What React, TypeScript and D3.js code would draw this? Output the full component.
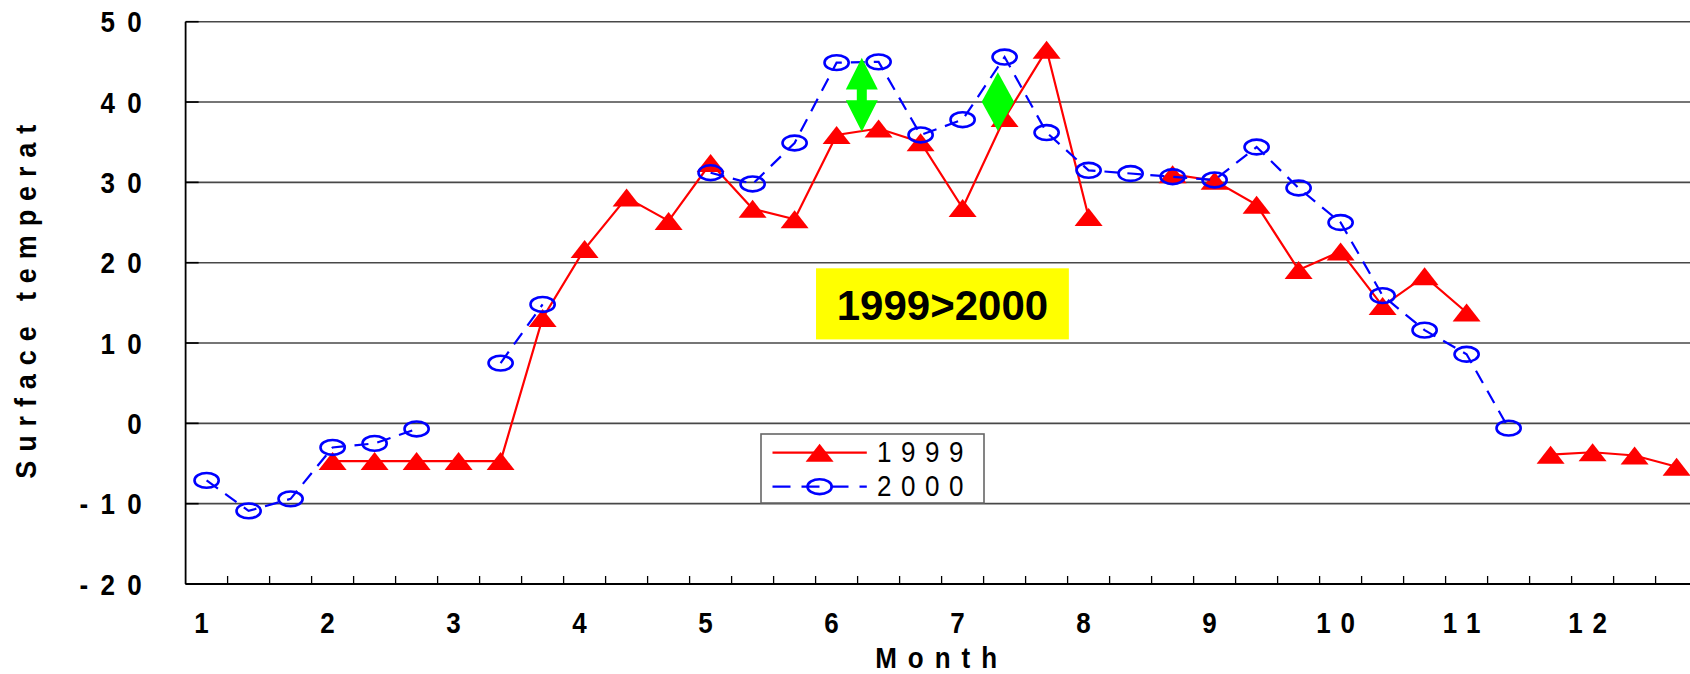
import React from "react";
import * as d3 from "d3";

// ---- data (dekadal: 3 values per month) ----
const months = ["1", "2", "3", "4", "5", "6", "7", "8", "9", "10", "11", "12"];
const dekadsPerMonth = 3;
const series1999: (number | null)[] = [
  null, null, null, -4.7, -4.7, -4.7, -4.7, -4.7, 13.1, 21.7, 28.1, 25.2,
  32.4, 26.7, 25.4, 35.9, 36.7, 35.0, 26.8, 38.0, 46.5, 25.7, null, 31.0,
  30.2, 27.2, 19.1, 21.4, 14.6, 18.3, 13.8, null, -3.9, -3.6, -4.0, -5.4,
];
const series2000: (number | null)[] = [
  -7.1, -10.9, -9.4, -3.0, -2.5, -0.7, null, 7.5, 14.8, null, null, null,
  31.2, 29.8, 34.9, 44.9, 45.0, 35.9, 37.8, 45.6, 36.2, 31.5, 31.1, 30.7,
  30.3, 34.4, 29.3, 25.0, 15.9, 11.6, 8.6, -0.6, null, null, null, null,
];
const yTicks = [-20, -10, 0, 10, 20, 30, 40, 50];
const legendLabels = ["1999", "2000"];
const yTitle = "Surface temperat";
const xTitle = "Month";
const noteText = "1999>2000";

const FONT = "'Liberation Sans', Arial, Helvetica, sans-serif";

export default function App() {
  const W = 1690;
  const H = 674;
  const left = 185.6;
  const top = 21.7;
  const bottom = 584;
  const catW = 42;
  const n = months.length * dekadsPerMonth;

  const x = d3.scaleLinear().domain([0, n]).range([left, left + n * catW]);
  const y = d3.scaleLinear().domain([-20, 50]).range([bottom, top]);
  const cx = (i: number) => x(i + 0.5);

  const lineGen = d3
    .line<number | null>()
    .defined((d) => d != null)
    .x((_, i) => cx(i))
    .y((d) => y(d as number));

  const red = "#FF0000";
  const blue = "#0000FF";
  const green = "#00FF00";
  const dash = "14,9";
  const SY = 1.12; // vertical stretch of the axis lettering

  const tri = (px: number, py: number) =>
    `M${px},${py - 9}L${px + 14},${py + 9}L${px - 14},${py + 9}Z`;

  // annotation shapes (pixel geometry derived from the scales)
  const ax = x(16.1);
  const aTop = y(45.5);
  const aBot = y(36.3);
  const head = 31.6;
  const arrowPts = [
    [ax, aTop], [ax + 16, aTop + head], [ax + 5, aTop + head], [ax + 5, aBot - head],
    [ax + 16, aBot - head], [ax, aBot], [ax - 16, aBot - head], [ax - 5, aBot - head],
    [ax - 5, aTop + head], [ax - 16, aTop + head],
  ];
  const dx = x(19.34);
  const dTop = y(43.7);
  const dBot = y(36.4);
  const dMid = (dTop + dBot) / 2;
  const diamondPts = [[dx, dTop], [dx + 16.2, dMid], [dx, dBot], [dx - 16.2, dMid]];

  const boxX0 = x(15.01);
  const boxX1 = x(21.03);
  const boxY0 = y(19.3);
  const boxY1 = y(10.45);

  const plotRight = x(n);

  return (
    <svg
      width={W}
      height={H}
      style={{ position: "absolute", left: 0, top: 0, background: "#fff" }}
      fontFamily={FONT}
    >
      <rect x={0} y={0} width={W} height={H} fill="#fff" />
      {/* gridlines */}
      {yTicks.map((t) => (
        <line key={"g" + t} x1={left} x2={plotRight} y1={y(t)} y2={y(t)} stroke="#484848" strokeWidth={1.6} />
      ))}
      {/* y ticks (inside) */}
      {yTicks.map((t) => (
        <line key={"yt" + t} x1={left} x2={left + 13} y1={y(t)} y2={y(t)} stroke="#000" strokeWidth={1.6} />
      ))}
      {/* x ticks */}
      {d3.range(1, n + 1).map((i) => (
        <line key={"xt" + i} x1={x(i)} x2={x(i)} y1={bottom} y2={bottom - 8} stroke="#000" strokeWidth={1.3} />
      ))}
      {/* axes */}
      <line x1={left} x2={left} y1={top} y2={bottom} stroke="#000" strokeWidth={1.8} />
      <line x1={left} x2={plotRight} y1={bottom} y2={bottom} stroke="#000" strokeWidth={1.8} />

      {/* y tick labels */}
      {yTicks.map((t) => (
        <text
          key={"yl" + t}
          transform={`translate(${141.6 + 12.3},${y(t) + 10.5}) scale(1,${SY})`}
          textAnchor="end"
          fontSize={26}
          fontWeight={700}
          letterSpacing={12.3}
        >
          {String(t)}
        </text>
      ))}
      {/* x tick labels */}
      {months.map((m, k) => (
        <text
          key={"xl" + m}
          transform={`translate(${cx(k * dekadsPerMonth)},632.5) scale(1,${SY})`}
          textAnchor="middle"
          fontSize={26}
          fontWeight={700}
          letterSpacing={10}
        >
          {m}
        </text>
      ))}
      {/* axis titles */}
      <text
        transform={`translate(${(left + plotRight) / 2},667.5) scale(1,${SY})`}
        textAnchor="middle"
        fontSize={26}
        fontWeight={700}
        letterSpacing={11}
      >
        {xTitle}
      </text>
      <text
        transform="translate(36,297.3) rotate(-90) scale(1,1.08)"
        textAnchor="middle"
        fontSize={27}
        fontWeight={700}
        letterSpacing={8.9}
      >
        {yTitle}
      </text>

      {/* series 1999 */}
      <path d={lineGen(series1999) || ""} fill="none" stroke={red} strokeWidth={2.2} />
      {series1999.map((v, i) =>
        v == null ? null : <path key={"r" + i} d={tri(cx(i), y(v))} fill={red} />
      )}
      {/* series 2000 */}
      <path d={lineGen(series2000) || ""} fill="none" stroke={blue} strokeWidth={2.2} strokeDasharray={dash} />
      {series2000.map((v, i) =>
        v == null ? null : (
          <ellipse key={"b" + i} cx={cx(i)} cy={y(v)} rx={12.1} ry={7.4} fill="none" stroke={blue} strokeWidth={2.6} />
        )
      )}

      {/* annotations */}
      <polygon points={arrowPts.map((p) => p.join(",")).join(" ")} fill={green} />
      <polygon points={diamondPts.map((p) => p.join(",")).join(" ")} fill={green} />
      <rect x={boxX0} y={boxY0} width={boxX1 - boxX0} height={boxY1 - boxY0} fill="#FFFF00" />
      <text x={(boxX0 + boxX1) / 2} y={320} textAnchor="middle" fontSize={42} fontWeight={700}>
        {noteText}
      </text>

      {/* legend */}
      <rect x={761} y={434} width={223} height={69} fill="#fff" stroke="#666" strokeWidth={1.6} />
      <line x1={772.5} x2={866.8} y1={452.7} y2={452.7} stroke={red} strokeWidth={2.2} />
      <path d={tri(819.6, 452.7)} fill={red} />
      <text transform={`translate(877,462.3) scale(1,1.1)`} fontSize={26} letterSpacing={9.5}>
        {legendLabels[0]}
      </text>
      <line x1={772.5} x2={866.8} y1={486.7} y2={486.7} stroke={blue} strokeWidth={2.2} strokeDasharray="18,11" />
      <ellipse cx={819.6} cy={486.7} rx={12.1} ry={7.4} fill="none" stroke={blue} strokeWidth={2.6} />
      <text transform={`translate(877,495.7) scale(1,1.1)`} fontSize={26} letterSpacing={9.5}>
        {legendLabels[1]}
      </text>
    </svg>
  );
}
